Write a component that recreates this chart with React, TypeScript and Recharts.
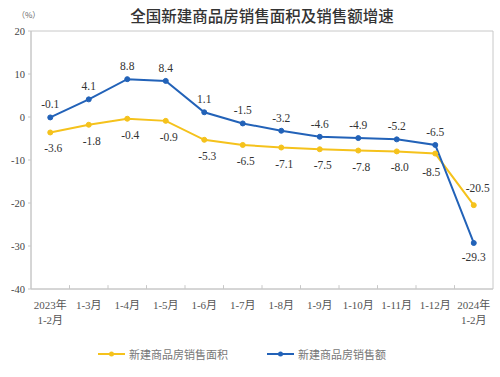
import React from 'react';
import { LineChart, Line, XAxis, YAxis, ReferenceArea, ReferenceLine, LabelList } from 'recharts';

const categories = [
  '2023年\n1-2月', '1-3月', '1-4月', '1-5月', '1-6月', '1-7月', '1-8月', '1-9月',
  '1-10月', '1-11月', '1-12月', '2024年\n1-2月',
];
const areaGrowth = [-3.6, -1.8, -0.4, -0.9, -5.3, -6.5, -7.1, -7.5, -7.8, -8.0, -8.5, -20.5];
const salesGrowth = [-0.1, 4.1, 8.8, 8.4, 1.1, -1.5, -3.2, -4.6, -4.9, -5.2, -6.5, -29.3];
const yTicks = [-40, -30, -20, -10, 0, 10, 20];
const boundaries = [1, 2, 3, 4, 5, 6, 7, 8, 9, 10, 11];

const YELLOW = '#F5C21C';
const BLUE = '#2262B8';
const FRAME = '#c8c8c8';
const SERIF = '"Liberation Serif", "Noto Sans CJK SC", serif';
const SANS = '"Noto Sans CJK SC", "Noto Sans", sans-serif';

const data = categories.map((c, i) => ({
  pos: i + 0.5,
  label: c,
  area: areaGrowth[i],
  sales: salesGrowth[i],
}));

const XTick = (props: any) => {
  const { x, y, payload } = props;
  const idx = Math.round(payload.value - 0.5);
  const lines = (categories[idx] || '').split('\n');
  return (
    <g>
      {lines.map((l, k) => (
        <text key={k} x={x} y={y + 20 + k * 15} textAnchor="middle" fontSize={11} fill="#555" fontFamily={SERIF}>
          {l}
        </text>
      ))}
    </g>
  );
};

const fmt = (v: number) => v.toFixed(1);

const SalesLabel = (props: any) => {
  const { x, y, value, index } = props;
  let dx = 0;
  let dy = -9;
  if (index === 11) {
    dy = 18;
  }
  return (
    <text x={x + dx} y={y + dy} textAnchor="middle" fontSize={11.5} fill="#333" fontFamily={SERIF}>
      {fmt(value)}
    </text>
  );
};

const AreaLabel = (props: any) => {
  const { x, y, value, index } = props;
  let dx = 3;
  let dy = 20;
  if (index === 11) {
    dx = 4;
    dy = -13;
  } else if (index === 10) {
    dx = -4;
    dy = 22;
  }
  return (
    <text x={x + dx} y={y + dy} textAnchor="middle" fontSize={11.5} fill="#333" fontFamily={SERIF}>
      {fmt(value)}
    </text>
  );
};

const LegendItem = ({ color, text, left }: { color: string; text: string; left: number }) => (
  <div style={{ position: 'absolute', left, top: 347, display: 'flex', alignItems: 'center' }}>
    <svg width={27} height={14}>
      <line x1={0} y1={7} x2={27} y2={7} stroke={color} strokeWidth={2} />
      <circle cx={13.5} cy={7} r={2.5} fill={color} />
    </svg>
    <span style={{ marginLeft: 4, fontSize: 11, color: '#777', fontFamily: SANS, lineHeight: '14px' }}>
      {text}
    </span>
  </div>
);

export default function App() {
  return (
    <div style={{ position: 'absolute', left: 0, top: 0, width: 500, height: 377, background: '#fff' }}>
      <div
        style={{
          position: 'absolute', left: 0, width: 524, top: 5, textAlign: 'center',
          fontSize: 15.5, fontWeight: 500, color: '#333', fontFamily: SANS, lineHeight: '20px',
        }}
      >
        全国新建商品房销售面积及销售额增速
      </div>
      <div style={{ position: 'absolute', left: 17, top: 8, fontSize: 8, color: '#666', fontFamily: SANS, lineHeight: '14px' }}>
        （%）
      </div>
      <LineChart width={500} height={377} data={data} margin={{ top: 31, right: 7, left: 0, bottom: 48 }}>
        <ReferenceArea x1={0} x2={12} y1={-40} y2={20} fill="none" stroke={FRAME} strokeWidth={1} />
        <XAxis
          dataKey="pos"
          type="number"
          domain={[0, 12]}
          ticks={data.map((d) => d.pos)}
          interval={0}
          tick={<XTick />}
          tickLine={false}
          tickSize={0}
          tickMargin={0}
          height={40}
          axisLine={{ stroke: FRAME }}
          allowDecimals
        />
        <YAxis
          type="number"
          domain={[-40, 20]}
          ticks={yTicks}
          interval={0}
          width={31}
          tickSize={3}
          tickMargin={3}
          tick={{ fontSize: 10.5, fill: '#444', fontFamily: SERIF }}
          axisLine={{ stroke: FRAME }}
          tickLine={{ stroke: FRAME }}
        />
        {boundaries.map((b) => (
          <ReferenceLine
            key={b}
            segment={[{ x: b, y: -40 }, { x: b, y: -39.1 }]}
            stroke={FRAME}
          />
        ))}
        <Line
          type="linear"
          dataKey="area"
          stroke={YELLOW}
          strokeWidth={2}
          dot={{ r: 2.5, fill: YELLOW, stroke: YELLOW, strokeWidth: 1 }}
          isAnimationActive={false}
        >
          <LabelList dataKey="area" content={<AreaLabel />} />
        </Line>
        <Line
          type="linear"
          dataKey="sales"
          stroke={BLUE}
          strokeWidth={2}
          dot={{ r: 2.5, fill: BLUE, stroke: BLUE, strokeWidth: 1 }}
          isAnimationActive={false}
        >
          <LabelList dataKey="sales" content={<SalesLabel />} />
        </Line>
      </LineChart>
      <LegendItem color={YELLOW} text="新建商品房销售面积" left={98} />
      <LegendItem color={BLUE} text="新建商品房销售额" left={267} />
    </div>
  );
}
